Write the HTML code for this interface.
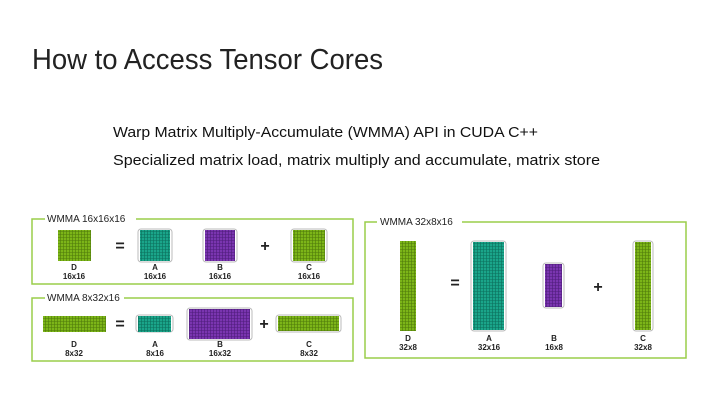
<!DOCTYPE html>
<html><head><meta charset="utf-8"><style>
html,body{margin:0;padding:0;background:#fff;}
svg{display:block;font-family:"Liberation Sans",sans-serif;}
</style></head><body>
<svg width="720" height="405" viewBox="0 0 720 405" xmlns="http://www.w3.org/2000/svg">
<defs>
<pattern id="gG" width="3" height="3" patternUnits="userSpaceOnUse"><rect width="3" height="3" fill="#7cb518"/><path d="M0 .5H3M.5 0V3" stroke="#4f7a0a" stroke-width=".6"/></pattern>
<pattern id="gT" width="3" height="3" patternUnits="userSpaceOnUse"><rect width="3" height="3" fill="#1aa58a"/><path d="M0 .5H3M.5 0V3" stroke="#0b6f5c" stroke-width=".6"/></pattern>
<pattern id="gP" width="3" height="3" patternUnits="userSpaceOnUse"><rect width="3" height="3" fill="#7a35b0"/><path d="M0 .5H3M.5 0V3" stroke="#4e1c7a" stroke-width=".6"/></pattern>
</defs>
<text x="32" y="69" font-size="29" fill="#222" font-weight="300" textLength="351" lengthAdjust="spacingAndGlyphs">How to Access Tensor Cores</text>
<text x="113" y="137" font-size="15" fill="#111" textLength="425" lengthAdjust="spacingAndGlyphs">Warp Matrix Multiply-Accumulate (WMMA) API in CUDA C++</text>
<text x="113" y="165" font-size="15" fill="#111" textLength="487" lengthAdjust="spacingAndGlyphs">Specialized matrix load, matrix multiply and accumulate, matrix store</text>

<g fill="none" stroke="#9acd4a" stroke-width="1.5">
<path d="M45 219H32V284H353V219H136"/>
<path d="M45 298H32V361H353V298H124"/>
<path d="M377 222H365V358H686V222H462"/>
</g>
<g font-size="10" fill="#222">
<text x="47" y="222">WMMA 16x16x16</text>
<text x="47" y="301">WMMA 8x32x16</text>
<text x="380" y="225">WMMA 32x8x16</text>
</g>

<g stroke="#bbb" stroke-width="1" fill="none">
<rect x="138" y="229" width="34" height="33" rx="3"/>
<rect x="203" y="229" width="34" height="33" rx="3"/>
<rect x="291" y="229" width="36" height="33" rx="3"/>
<rect x="136" y="315" width="37" height="17" rx="3"/>
<rect x="187" y="308" width="65" height="32" rx="3"/>
<rect x="276" y="315" width="65" height="17" rx="3"/>
<rect x="471" y="241" width="35" height="90" rx="3"/>
<rect x="543" y="263" width="21" height="45" rx="3"/>
<rect x="633" y="241" width="20" height="90" rx="3"/>
</g>
<rect x="58" y="230" width="33" height="31" fill="url(#gG)"/>
<rect x="140" y="230" width="30" height="31" fill="url(#gT)"/>
<rect x="205" y="230" width="30" height="31" fill="url(#gP)"/>
<rect x="293" y="230" width="32" height="31" fill="url(#gG)"/>
<rect x="43" y="316" width="63" height="16" fill="url(#gG)"/>
<rect x="138" y="316" width="33" height="16" fill="url(#gT)"/>
<rect x="189" y="309" width="61" height="30" fill="url(#gP)"/>
<rect x="278" y="316" width="61" height="15" fill="url(#gG)"/>
<rect x="400" y="241" width="16" height="90" fill="url(#gG)"/>
<rect x="473" y="242" width="31" height="88" fill="url(#gT)"/>
<rect x="545" y="264" width="17" height="43" fill="url(#gP)"/>
<rect x="635" y="242" width="16" height="88" fill="url(#gG)"/>

<g font-size="16" font-weight="bold" fill="#222" text-anchor="middle">
<text x="120" y="251">=</text><text x="265" y="251">+</text>
<text x="120" y="329">=</text><text x="264" y="329">+</text>
<text x="455" y="288">=</text><text x="598" y="292">+</text>
</g>
<g font-size="8" font-weight="bold" fill="#222" text-anchor="middle">
<text x="74" y="270">D</text><text x="74" y="279">16x16</text>
<text x="155" y="270">A</text><text x="155" y="279">16x16</text>
<text x="220" y="270">B</text><text x="220" y="279">16x16</text>
<text x="309" y="270">C</text><text x="309" y="279">16x16</text>
<text x="74" y="347">D</text><text x="74" y="356">8x32</text>
<text x="155" y="347">A</text><text x="155" y="356">8x16</text>
<text x="220" y="347">B</text><text x="220" y="356">16x32</text>
<text x="309" y="347">C</text><text x="309" y="356">8x32</text>
<text x="408" y="341">D</text><text x="408" y="350">32x8</text>
<text x="489" y="341">A</text><text x="489" y="350">32x16</text>
<text x="554" y="341">B</text><text x="554" y="350">16x8</text>
<text x="643" y="341">C</text><text x="643" y="350">32x8</text>
</g>
</svg>
</body></html>
